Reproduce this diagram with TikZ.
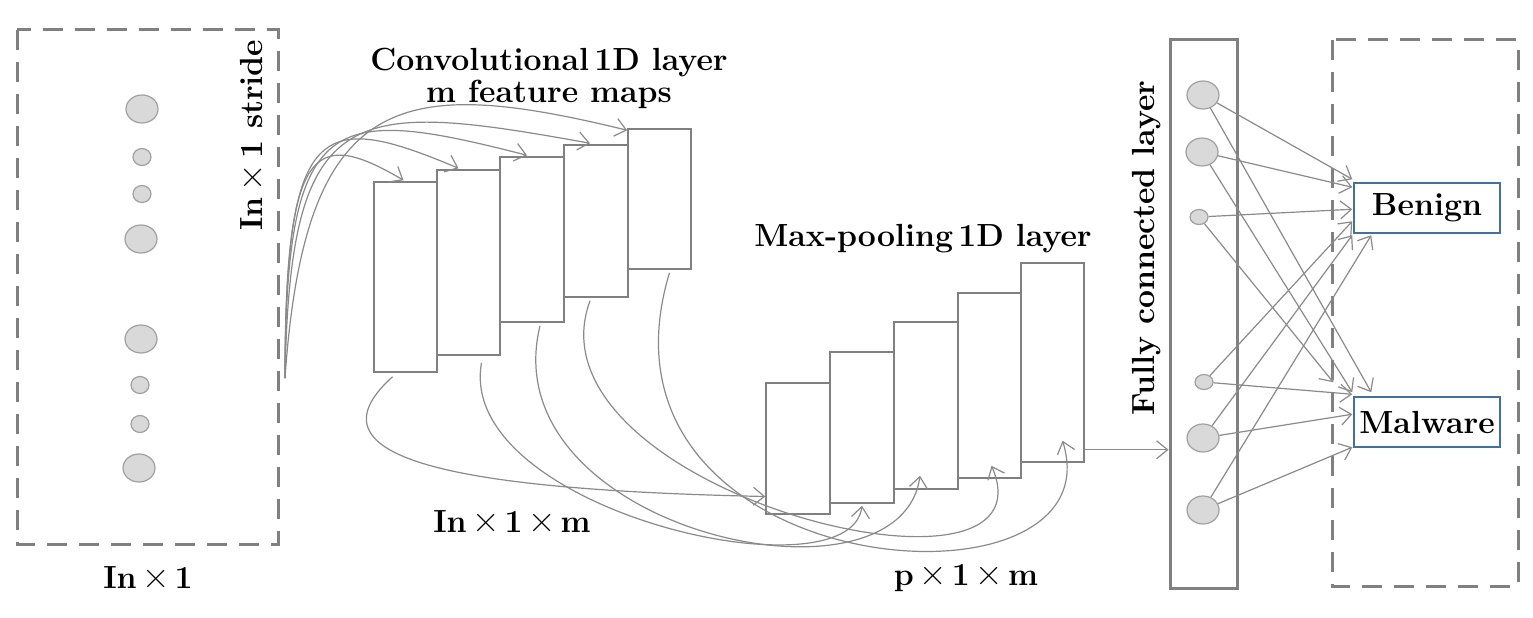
\documentclass[tikz,border=0pt]{standalone}
\usepackage{xcolor}
\definecolor{FrameGrey}{RGB}{128,128,128}
\definecolor{WireGrey}{RGB}{138,138,138}
\definecolor{CellFill}{RGB}{217,217,217}
\definecolor{CellEdge}{RGB}{160,160,160}
\definecolor{ClassBlue}{RGB}{65,113,156}
\usepackage{tikz}
\usetikzlibrary{arrows.meta,shapes.geometric,calc}

\newcommand{\tms}{\,{\mdseries\fontsize{38}{38}\selectfont ×}\,}

\tikzset{
  dashframe/.style={draw=FrameGrey,line width=3pt,dash pattern=on 20pt off 12pt},
  bigcell/.style={ellipse,draw=CellEdge,fill=CellFill,line width=1.2pt,minimum width=32pt,minimum height=28pt,inner sep=0pt},
  smallcell/.style={ellipse,draw=CellEdge,fill=CellFill,line width=1.2pt,minimum width=18pt,minimum height=17pt,inner sep=0pt},
  fmap/.style={rectangle,draw=FrameGrey,line width=1.5pt,fill=white,inner sep=0pt},
  fcbox/.style={rectangle,draw=FrameGrey,line width=3pt,inner sep=0pt},
  wire/.style={draw=WireGrey,line width=1.2pt,-{Straight Barb[length=11pt,width=18pt]}},
  lbl/.style={font=\fontsize{32}{36}\selectfont\bfseries},
  classbox/.style={rectangle,draw=ClassBlue,line width=1.5pt,minimum width=146pt,minimum height=50pt,
    font=\fontsize{32}{34}\selectfont\bfseries},
}

\begin{document}
\begin{tikzpicture}[x=1pt,y=-1pt]
  \useasboundingbox (0,0) rectangle (1533,618);

  % Input window
  \draw[dashframe] (17,30) rectangle (278,544);
  \node[bigcell]   (in1) at (142,109) {};
  \node[smallcell] (in2) at (142,157) {};
  \node[smallcell] (in3) at (142,194) {};
  \node[bigcell]   (in4) at (141,239) {};
  \node[bigcell]   (in5) at (141,339) {};
  \node[smallcell] (in6) at (140,385) {};
  \node[smallcell] (in7) at (140,424) {};
  \node[bigcell]   (in8) at (139,468) {};
  \node[lbl] (inlabel) at (148,578) {In\tms1};
  \node[lbl,rotate=90] (stride) at (251,135) {In\tms1 stride};

  % Convolutional feature maps
  \node[fmap,minimum width=63pt,minimum height=190pt] (conv1) at (405.5,277) {};
  \node[fmap,minimum width=63pt,minimum height=185pt] (conv2) at (468.5,262.5) {};
  \node[fmap,minimum width=64pt,minimum height=165pt] (conv3) at (532,239.5) {};
  \node[fmap,minimum width=64pt,minimum height=152pt] (conv4) at (596,221) {};
  \node[fmap,minimum width=63pt,minimum height=140pt] (conv5) at (659.5,199) {};
  \node[lbl] (convtitle) at (549,63) {Convolutional\,1D layer};
  \node[lbl] (convsub) at (549,94) {m feature maps};
  \node[lbl] (convsize) at (512,522) {In\tms1\tms m};

  % Max-pooling feature maps
  \node[fmap,minimum width=64pt,minimum height=131pt] (pool1) at (798,448.5) {};
  \node[fmap,minimum width=64pt,minimum height=151pt] (pool2) at (862,427.5) {};
  \node[fmap,minimum width=64pt,minimum height=167pt] (pool3) at (926,405.5) {};
  \node[fmap,minimum width=63pt,minimum height=185pt] (pool4) at (989.5,385.5) {};
  \node[fmap,minimum width=63pt,minimum height=199pt] (pool5) at (1052.5,362.5) {};
  \node[lbl] (pooltitle) at (923,239) {Max-pooling\,1D layer};
  \node[lbl] (poolsize) at (966,578) {p\tms1\tms m};

  % Stride connections
  \coordinate (src) at (285,378);
  \draw[wire] (src) .. controls (286,150) and (310,125) .. ($(conv1.north)+(-2,-1)$);
  \draw[wire] (src) .. controls (285,120) and (320,110) .. ($(conv2.north)+(-10,-1)$);
  \draw[wire] (src) .. controls (286,110) and (330,105) .. ($(conv3.north)+(-5,-1)$);
  \draw[wire] (src) .. controls (290,100) and (350,100) .. ($(conv4.north)+(-6,-1)$);
  \draw[wire] (src) .. controls (305,90) and (400,75) .. ($(conv5.north west)+(0,2)$);

  % Pooling connections
  \draw[wire] ($(conv1.south)+(-13,4)$) .. controls (300,460) and (460,490) .. ($(pool1.west)+(0,48)$);
  \draw[wire] ($(conv2.south)+(13,7)$) .. controls (455,510) and (850,600) .. ($(pool2.south)+(0,2)$);
  \draw[wire] ($(conv3.south)+(8,3)$) .. controls (490,530) and (900,620) .. ($(pool3.south)+(-6,-14)$);
  \draw[wire] ($(conv4.south)+(-6,3)$) .. controls (520,490) and (1060,625) .. ($(pool4.south)+(2,-13)$);
  \draw[wire] ($(conv5.south)+(10,3)$) .. controls (575,585) and (1120,625) .. ($(pool5.south)+(10,-22)$);

  % Fully connected layer
  \node[fcbox,minimum width=67pt,minimum height=548pt] (fc) at (1203.5,314) {};
  \node[lbl,rotate=90] (fctitle) at (1147,248) {Fully connected layer};
  \coordinate (p5out) at ($(pool5.south east)+(0,-13)$);
  \draw[wire] (p5out) -- (p5out -| fc.west);
  \node[bigcell]   (fc1) at (1203,95) {};
  \node[bigcell]   (fc2) at (1202,152) {};
  \node[smallcell,minimum height=15pt] (fc3) at (1199,217) {};
  \node[smallcell,minimum height=15pt] (fc4) at (1204,382) {};
  \node[bigcell]   (fc5) at (1203,438) {};
  \node[bigcell]   (fc6) at (1203,510) {};

  % Output classes
  \draw[dashframe] (1332,40) rectangle (1518,586);
  \node[classbox] (benign) at (1427,208) {Benign};
  \node[classbox] (malware) at (1427,422) {Malware};
  \foreach \c/\bx/\by/\mx/\my in {fc1/-1/-3/18/-4, fc2/-1/5/-1/-4, fc3/-1/27/-20/-14,
      fc4/-1/39/-1/-2, fc5/-1/53/-1/18, fc6/18/53/-1/51}{
    \draw[wire] (\c) -- ($(benign.north west)+(\bx,\by)$);
    \draw[wire] (\c) -- ($(malware.north west)+(\mx,\my)$);
  }
\end{tikzpicture}
\end{document}
